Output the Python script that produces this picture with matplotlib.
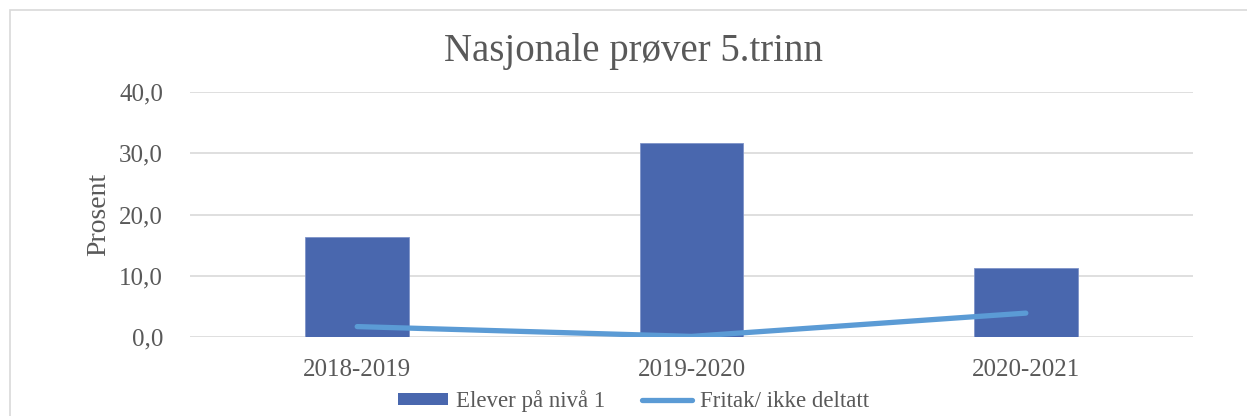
import matplotlib.pyplot as plt
from matplotlib.patches import Rectangle
from matplotlib.lines import Line2D
from matplotlib.patches import Patch
import numpy as np

years = ["2018-2019", "2019-2020", "2020-2021"]
niva1 = [16.3, 31.6, 11.3]
fritak = [1.7, 0.1, 3.9]

plt.rcParams['font.family'] = ['Liberation Serif', 'DejaVu Serif']
txt = '#595959'
grid = '#D9D9D9'

fig = plt.figure(figsize=(12.47, 4.16), dpi=100)
ax = fig.add_axes([0.1524, 0.1899, 0.8043, 0.5889])

# chart frame
fig.patches.append(Rectangle((10/1247, -0.1), 1.1, (406/416) + 0.1, transform=fig.transFigure,
                             fill=False, edgecolor=grid, linewidth=1.2))

x = np.arange(len(years))
ax.bar(x, niva1, width=0.31, color='#4967AE', edgecolor='#7F93C8', linewidth=0.6, zorder=2)
ax.plot(x, fritak, color='#5B9BD5', linewidth=3.8, solid_capstyle='round', zorder=3)

ax.set_xlim(-0.5, 2.5)
ax.set_ylim(0, 40)
ax.set_yticks(np.arange(0, 41, 10))
ax.set_yticklabels([f"{v:.1f}".replace('.', ',') for v in np.arange(0, 41, 10)])
ax.set_xticks(x)
ax.set_xticklabels(years)
ax.tick_params(axis='both', length=0, labelsize=18, colors=txt)
ax.tick_params(axis='y', pad=19.5)
ax.tick_params(axis='x', pad=16)
ax.grid(axis='y', color=grid, linewidth=1.2, zorder=0)
for s in ax.spines.values():
    s.set_visible(False)
ax.set_ylabel("Prosent", fontsize=20, color=txt, labelpad=6)

fig.text(0.508, 0.875, "Nasjonale prøver 5.trinn", ha='center', va='center', fontsize=28, color=txt)

handles = [Patch(facecolor='#4967AE', label='Elever på nivå 1'),
           Line2D([0], [0], color='#5B9BD5', linewidth=3.8, solid_capstyle='round', label='Fritak/ ikke deltatt')]
fig.legend(handles=handles, loc='center', bbox_to_anchor=(0.508, 0.036), ncol=2, frameon=False,
           fontsize=16.5, labelcolor=txt, handlelength=2.2, handletextpad=0.35, columnspacing=1.6,
           handleheight=0.44)

plt.savefig("out.png", dpi=100)
